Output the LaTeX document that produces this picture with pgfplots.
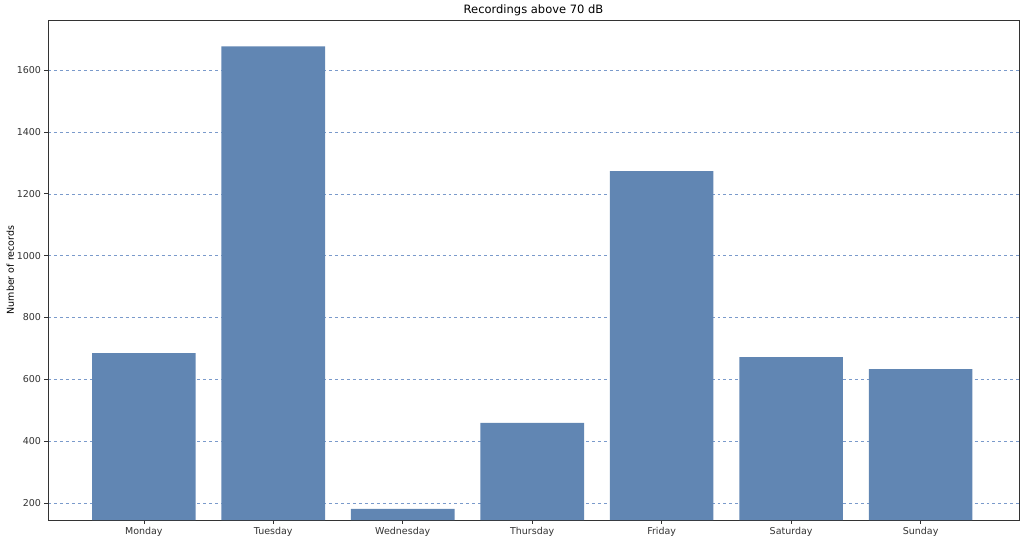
\documentclass[border=0pt]{standalone}
\usepackage{pgfplots}
\pgfplotsset{compat=1.18}
\usepackage{fontspec}
\setmainfont{DejaVu Sans}
\definecolor{barc}{HTML}{6186B3}
\definecolor{gridc}{HTML}{7A9ACB}
\definecolor{axc}{HTML}{333333}
\begin{document}
\begin{tikzpicture}
\begin{axis}[
  name=ax,
  scale only axis,
  width=971bp, height=500bp,
  xmin=-0.74, xmax=6.76,
  ymin=145, ymax=1762,
  xtick={0,1,2,3,4,5,6},
  xticklabels={Monday,Tuesday,Wednesday,Thursday,Friday,Saturday,Sunday},
  ytick={200,400,600,800,1000,1200,1400,1600},
  /pgf/number format/assume math mode=true,
  /pgf/number format/1000 sep={},
  tick label style={font=\fontsize{9.5bp}{11bp}\selectfont, text=axc},
  title={Recordings above 70 dB},
  title style={font=\fontsize{11.5bp}{13bp}\selectfont, yshift=-5bp},
  ylabel={Number of records},
  ylabel style={font=\fontsize{9.5bp}{11bp}\selectfont, yshift=-4bp},
  ymajorgrids,
  grid style={gridc, dashed, line width=0.5bp},
  axis line style={axc, line width=0.8bp},
  tick style={axc, line width=0.6bp},
  tick align=outside,
  major tick length=3.5bp,
  xtick pos=bottom, ytick pos=left,
  ybar, bar width=0.8,
]
\addplot[fill=barc, draw=none] coordinates {
  (0,685) (1,1677) (2,181) (3,459) (4,1273) (5,672) (6,633)
};
\end{axis}
\pgfresetboundingbox
\path ([shift={(-48bp,-20bp)}]ax.south west) rectangle ([shift={(4bp,20bp)}]ax.north east);
\end{tikzpicture}
\end{document}
